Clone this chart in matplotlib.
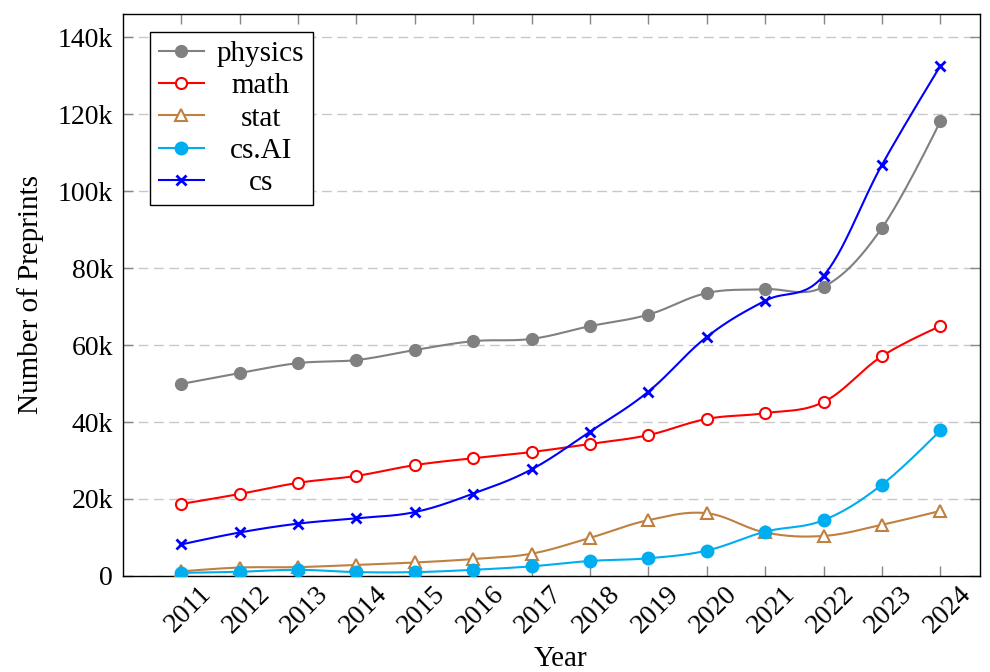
import numpy as np
import matplotlib
matplotlib.use("Agg")
import matplotlib.pyplot as plt
from matplotlib.ticker import FuncFormatter, FixedLocator
import matplotlib.transforms as mtransforms

plt.rcParams['font.family'] = ['Liberation Serif', 'DejaVu Serif']
plt.rcParams['font.size'] = 20

years = [2011, 2012, 2013, 2014, 2015, 2016, 2017, 2018, 2019, 2020, 2021, 2022, 2023, 2024]
physics = [49900, 52700, 55300, 56100, 58700, 61000, 61600, 64900, 67900, 73500, 74500, 75100, 90400, 118100]
math_ = [18700, 21300, 24200, 26000, 28800, 30600, 32200, 34300, 36600, 40800, 42300, 45200, 57100, 64900]
stat = [1200, 2200, 2300, 2900, 3500, 4400, 5800, 9900, 14500, 16300, 11300, 10400, 13300, 16900]
cs_ai = [800, 1100, 1600, 1000, 1000, 1600, 2500, 3900, 4600, 6600, 11500, 14500, 23700, 37800]
cs = [8200, 11300, 13600, 15000, 16600, 21400, 27700, 37500, 47900, 62100, 71500, 78000, 106800, 132500]
series_names = ['physics', 'math', 'stat', 'cs.AI', 'cs']
ytick_vals = [0, 20000, 40000, 60000, 80000, 100000, 120000, 140000]


def smooth(xs, ys, c=0.18, n=30):
    P = np.column_stack([xs, ys]).astype(float)
    m = len(P)
    out = []
    for i in range(m - 1):
        p0, p3 = P[i], P[i + 1]
        c1 = p0 if i == 0 else p0 + c * (P[i + 1] - P[i - 1])
        c2 = p3 if i == m - 2 else p3 - c * (P[i + 2] - P[i])
        t = np.linspace(0, 1, n, endpoint=False)[:, None]
        seg = ((1 - t) ** 3) * p0 + 3 * ((1 - t) ** 2) * t * c1 + 3 * (1 - t) * t ** 2 * c2 + t ** 3 * p3
        out.append(seg)
    out.append(P[-1:])
    D = np.vstack(out)
    idx = [i * n for i in range(m)]
    return D[:, 0], D[:, 1], idx


fig = plt.figure(figsize=(9.9, 6.72), dpi=100)
ax = fig.add_axes([0.1242, 0.1429, 0.8657, 0.8363])

styles = [
    (physics, dict(color='#808080', marker='o', markersize=8.5, markerfacecolor='#808080', markeredgecolor='#808080', markeredgewidth=1)),
    (math_, dict(color='#ff0000', marker='o', markersize=8, markerfacecolor='white', markeredgecolor='#ff0000', markeredgewidth=1.5)),
    (stat, dict(color='#bf8040', marker='^', markersize=8, markerfacecolor='white', markeredgecolor='#bf8040', markeredgewidth=1.5)),
    (cs_ai, dict(color='#00aeef', marker='o', markersize=9, markerfacecolor='#00aeef', markeredgecolor='#00aeef', markeredgewidth=1)),
    (cs, dict(color='#0000ff', marker='x', markersize=6.5, markeredgewidth=2)),
]

for k, (vals, st) in enumerate(styles):
    sx, sy, idx = smooth(years, vals)
    ax.plot(sx, sy, linewidth=1.5, markevery=idx, label=series_names[k], zorder=3 + k, **st)

ax.set_xlim(2010.0, 2024.68)
ax.set_ylim(0, 146000)

ax.xaxis.set_major_locator(FixedLocator(years))
ax.set_xticklabels([str(y) for y in years], rotation=45, ha='center', va='top')
ax.yaxis.set_major_locator(FixedLocator(ytick_vals))
ax.yaxis.set_major_formatter(FuncFormatter(lambda v, p: '0' if v == 0 else f'{int(round(v / 1000))}k'))

ax.tick_params(axis='both', direction='in', length=7, width=1, color='#888888',
               top=True, right=True, labelsize=20, labelcolor='black')
ax.tick_params(axis='x', pad=4)
ax.tick_params(axis='y', pad=7)

offset = mtransforms.ScaledTranslation(0.07, 0, fig.dpi_scale_trans)
for lab in ax.get_xticklabels():
    lab.set_transform(lab.get_transform() + offset)

ax.grid(axis='y', color='#c8c8c8', linestyle=(0, (7, 4)), linewidth=1)
ax.grid(axis='x', visible=False)
ax.set_axisbelow(True)
for s in ax.spines.values():
    s.set_color('black')
    s.set_linewidth(1)

ax.set_xlabel('Year', fontsize=21)
ax.xaxis.set_label_coords(0.511, -0.124)
ax.set_ylabel('Number of Preprints', fontsize=21, labelpad=10)

leg = ax.legend(loc='upper left', bbox_to_anchor=(0.0315, 0.968), borderaxespad=0,
                frameon=True, fancybox=False, edgecolor='black', framealpha=1,
                handlelength=1.54, handletextpad=0.46, labelspacing=0.2, borderpad=0.3,
                numpoints=1, fontsize=21)
leg.get_frame().set_linewidth(1)

fig.canvas.draw()
r = fig.canvas.get_renderer()
texts = leg.get_texts()
widths = [t.get_window_extent(r).width for t in texts]
mw = max(widths)
for t, w in zip(texts, widths):
    t.set_x((mw - w) / 2)

fig.savefig('out.png', dpi=100)
